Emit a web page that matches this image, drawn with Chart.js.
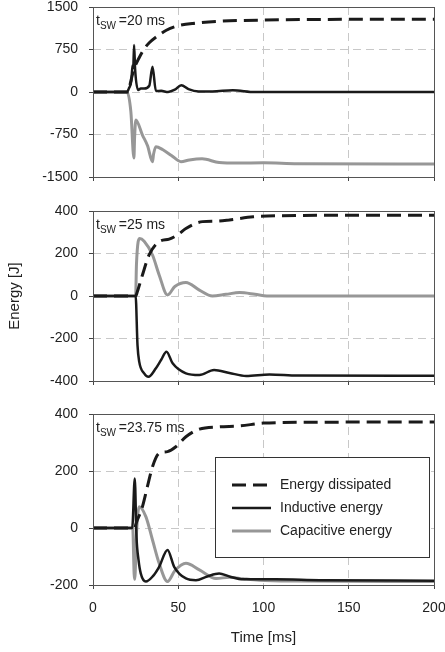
<!DOCTYPE html>
<html>
<head>
<meta charset="utf-8">
<script src="https://cdn.jsdelivr.net/npm/chart.js@4.4.1/dist/chart.umd.min.js"></script>
<style>
  body { margin: 0; background: #fff; }
  .panel { position: absolute; left: 0; }
</style>
</head>
<body>
<div class="panel" style="top:0px"><canvas id="chart1" width="445" height="190"></canvas></div>
<div class="panel" style="top:190px"><canvas id="chart2" width="445" height="200"></canvas></div>
<div class="panel" style="top:390px"><canvas id="chart3" width="445" height="262"></canvas></div>
<script>
// series names and switching times
var seriesNames = ['Energy dissipated', 'Inductive energy', 'Capacitive energy'];
var tswLabels = ['20', '25', '23.75'];
var timeTicks = [0, 50, 100, 150, 200];

// panel 1: tsw = 20 ms
var p1DissT = [0, 20, 21, 22, 24, 27, 30, 33, 37, 43, 50, 60, 75, 100, 150, 200];
var p1DissE = [0, 0, 30, 170, 400, 600, 760, 870, 970, 1090, 1170, 1215, 1250, 1270, 1283, 1285];
var p1IndT = [0, 20, 21, 22.5, 23.2, 23.6, 24.1, 24.7, 26.5, 28, 30, 33, 34.9, 36.9, 40, 44, 48, 51.8, 56, 62, 70, 82, 95, 120, 200];
var p1IndE = [0, 0, 60, 200, 470, 420, 830, 400, 35, 60, 60, 110, 446, 18, 20, 0, 40, 120, 50, 10, 10, 30, 0, 0, 0];
var p1CapT = [0, 20, 22.2, 24, 24.4, 25.1, 29, 32, 34.9, 35.5, 36.9, 41, 46, 51.6, 56.5, 64, 74, 85, 100, 120, 200];
var p1CapE = [0, 0, -347, -1165, -800, -494, -760, -950, -1230, -1100, -965, -1020, -1120, -1230, -1200, -1180, -1245, -1255, -1250, -1265, -1270];

// panel 2: tsw = 25 ms
var p2DissT = [0, 25, 26, 29, 32.9, 38.8, 44.7, 50, 54.5, 64.3, 72, 80, 94, 110, 150, 200];
var p2DissE = [0, 0, 20, 99, 193, 256, 268, 290, 318, 350, 352, 358, 373, 378, 380, 380];
var p2IndT = [0, 25, 26.1, 27.1, 30, 32.5, 36.9, 40, 43.1, 46.7, 54.5, 62.4, 71, 80, 89.8, 103.5, 120, 200];
var p2IndE = [0, 0, -231, -309, -364, -380, -340, -300, -262, -317, -364, -372, -348, -362, -376, -369, -374, -375];
var p2CapT = [0, 25, 25.5, 27.4, 30, 34.9, 38.8, 43.7, 48, 54.5, 62.4, 70, 78, 86, 95, 102, 200];
var p2CapE = [0, 0, 150, 271, 258, 193, 99, 5, 45, 64, 28, 0, 8, 16, 8, 0, 0];

// panel 3: tsw = 23.75 ms
var p3DissT = [0, 24, 26, 29, 31.9, 34.9, 38.8, 43.7, 48.6, 54.5, 62.4, 74, 86, 100, 130, 200];
var p3DissE = [0, 0, 28, 75, 145, 215, 262, 268, 285, 320, 347, 355, 358, 368, 371, 372];
var p3IndT = [0, 23, 24.5, 25.5, 26.7, 28, 31, 35, 38.8, 43.7, 47.6, 54.5, 60.4, 67, 74, 80, 88, 107, 133, 200];
var p3IndE = [0, 0, 174, -30, -112, -159, -188, -170, -136, -77, -136, -177, -183, -170, -160, -170, -180, -180, -183, -185];
var p3CapT = [0, 23.3, 24.1, 24.5, 25.5, 27.1, 31, 34.9, 38.8, 43.7, 48, 54.5, 62.4, 72.2, 80, 88, 97.6, 120, 200];
var p3CapE = [0, 0, -159, -180, -20, 75, 40, -42, -124, -188, -150, -124, -147, -177, -173, -178, -183, -186, -188];

var FONT = "'Liberation Sans', Arial, sans-serif";
var TEXT = '#222';

function pts(t, e) {
  return t.map(function (x, i) { return { x: x, y: e[i] }; });
}

function makeDatasets(dT, dE, iT, iE, cT, cE) {
  return [
    { label: seriesNames[0], data: pts(dT, dE), borderColor: '#1a1a1a', borderWidth: 3, borderDash: [14, 7] },
    { label: seriesNames[1], data: pts(iT, iE), borderColor: '#1a1a1a', borderWidth: 2.5 },
    { label: seriesNames[2], data: pts(cT, cE), borderColor: '#979797', borderWidth: 3 }
  ];
}

// frame around the plot + t_SW note
var framePlugin = {
  id: 'frame',
  afterDatasetsDraw: function (chart, args, opts) {
    var ca = chart.chartArea, c = chart.ctx;
    c.save();
    c.strokeStyle = '#555';
    c.lineWidth = 1;
    c.strokeRect(Math.round(ca.left) + 0.5, Math.round(ca.top) + 0.5, Math.round(ca.right - ca.left), Math.round(ca.bottom - ca.top));
    // t_SW label
    var x = ca.left + 3, y = ca.top + 18;
    c.fillStyle = TEXT;
    c.textBaseline = 'alphabetic';
    c.font = '14px ' + FONT;
    c.fillText('t', x, y);
    x += c.measureText('t').width;
    c.font = '10px ' + FONT;
    c.fillText('SW', x, y + 4);
    x += c.measureText('SW ').width;
    c.font = '14px ' + FONT;
    c.fillText('=' + opts.tsw + ' ms', x, y);
    c.restore();
  }
};

// boxed legend inside the last panel
var boxLegend = {
  id: 'boxLegend',
  afterDraw: function (chart, args, opts) {
    if (!opts.show) return;
    var ca = chart.chartArea, c = chart.ctx;
    var bx = ca.right - 219, by = ca.top + 43, bw = 214, bh = 100;
    c.save();
    c.fillStyle = '#fff';
    c.fillRect(bx, by, bw, bh);
    c.strokeStyle = '#333';
    c.lineWidth = 1;
    c.strokeRect(Math.round(bx) + 0.5, Math.round(by) + 0.5, bw, bh);
    var rows = [28, 51, 74];
    chart.data.datasets.forEach(function (ds, i) {
      var ry = by + rows[i];
      c.beginPath();
      c.strokeStyle = ds.borderColor;
      c.lineWidth = ds.borderWidth;
      c.setLineDash(ds.borderDash || []);
      c.moveTo(bx + 17, ry);
      c.lineTo(bx + 56, ry);
      c.stroke();
      c.setLineDash([]);
      c.fillStyle = TEXT;
      c.font = '14px ' + FONT;
      c.textBaseline = 'middle';
      c.fillText(ds.label, bx + 65, ry);
    });
    c.restore();
  }
};

function makeChart(id, datasets, yMin, yMax, yStep, opt) {
  var ctx = document.getElementById(id);
  return new Chart(ctx, {
    type: 'line',
    data: { datasets: datasets },
    plugins: [framePlugin, boxLegend],
    options: {
      responsive: false,
      animation: false,
      devicePixelRatio: 1,
      layout: { padding: { top: opt.padTop, right: 11, left: 0, bottom: 0 } },
      elements: {
        point: { radius: 0 },
        line: { tension: 0.4, cubicInterpolationMode: 'monotone', borderCapStyle: 'butt' }
      },
      plugins: {
        legend: { display: false },
        tooltip: { enabled: false },
        frame: { tsw: opt.tsw },
        boxLegend: { show: !!opt.legend }
      },
      scales: {
        x: {
          type: 'linear', min: 0, max: 200,
          afterBuildTicks: function (s) { s.ticks = timeTicks.map(function (v) { return { value: v }; }); },
          afterFit: function (s) { s.height = opt.xHeight; s.paddingLeft = 0; s.paddingRight = 0; },
          grid: {
            color: function (c) { return (c.tick && (c.tick.value === 0 || c.tick.value === 200)) ? 'rgba(0,0,0,0)' : '#c8c8c8'; },
            lineWidth: 1, drawTicks: true, tickLength: 4, tickColor: '#444', tickBorderDash: []
          },
          border: { display: false, dash: [8, 5] },
          ticks: { display: !!opt.xLabels, padding: 11, color: TEXT, font: { family: FONT, size: 14 } },
          title: { display: !!opt.xLabels, text: 'Time [ms]', color: TEXT, font: { family: FONT, size: 15 }, padding: { top: 0, bottom: 5 } }
        },
        y: {
          min: yMin, max: yMax,
          ticks: {
            stepSize: yStep, padding: 11, color: TEXT, font: { family: FONT, size: 14 },
            callback: function (v) { return String(v); }
          },
          afterFit: function (s) { s.width = 93; s.paddingTop = 0; s.paddingBottom = 0; },
          grid: {
            color: function (c) { return (c.tick && (c.tick.value === yMin || c.tick.value === yMax)) ? 'rgba(0,0,0,0)' : '#c8c8c8'; },
            lineWidth: 1, drawTicks: true, tickLength: 4, tickColor: '#444', tickBorderDash: []
          },
          border: { display: false, dash: [8, 5] },
          title: { display: !!opt.yTitle, text: 'Energy [J]', color: TEXT, font: { family: FONT, size: 15 }, padding: { top: 6, bottom: 0 } }
        }
      }
    }
  });
}

makeChart('chart1', makeDatasets(p1DissT, p1DissE, p1IndT, p1IndE, p1CapT, p1CapE), -1500, 1500, 750,
  { padTop: 7, xHeight: 13, tsw: tswLabels[0] });
makeChart('chart2', makeDatasets(p2DissT, p2DissE, p2IndT, p2IndE, p2CapT, p2CapE), -400, 400, 200,
  { padTop: 21, xHeight: 9, tsw: tswLabels[1], yTitle: true });
makeChart('chart3', makeDatasets(p3DissT, p3DissE, p3IndT, p3IndE, p3CapT, p3CapE), -200, 400, 200,
  { padTop: 24, xHeight: 67, tsw: tswLabels[2], xLabels: true, legend: true });
</script>
</body>
</html>
